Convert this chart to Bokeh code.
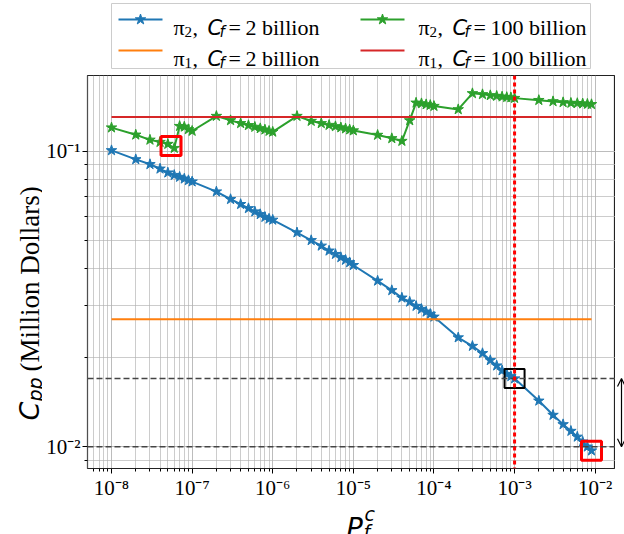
from math import pi, log10
from bokeh.plotting import figure
from bokeh.layouts import gridplot
from bokeh.models import (FixedTicker, CustomJSTickFormatter, Span, Arrow,
                          OpenHead, Range1d)
from bokeh.core.properties import value
from bokeh.embed import file_html
from bokeh.resources import INLINE

# ---------------- data ----------------
pf = [1e-8, 2e-8, 3e-8, 4e-8, 5e-8, 6e-8, 7e-8, 8e-8, 9e-8,
      1e-7, 2e-7, 3e-7, 4e-7, 5e-7, 6e-7, 7e-7, 8e-7, 9e-7,
      1e-6, 2e-6, 3e-6, 4e-6, 5e-6, 6e-6, 7e-6, 8e-6, 9e-6,
      1e-5, 2e-5, 3e-5, 4e-5, 5e-5, 6e-5, 7e-5, 8e-5, 9e-5,
      1e-4, 2e-4, 3e-4, 4e-4, 5e-4, 6e-4, 7e-4, 8e-4, 9e-4,
      1e-3, 2e-3, 3e-3, 4e-3, 5e-3, 6e-3, 7e-3, 8e-3, 9e-3]

pi2_cf2 = [0.1005, 0.0937, 0.0902, 0.0871, 0.0845, 0.0829, 0.0817, 0.0806, 0.0796,
           0.0788, 0.0729, 0.0687, 0.0661, 0.0640, 0.0624, 0.0611, 0.0598, 0.0590,
           0.0585, 0.0530, 0.0499, 0.0478, 0.0460, 0.0448, 0.0437, 0.0428, 0.0420,
           0.0411, 0.0364, 0.0338, 0.0319, 0.0309, 0.0299, 0.0292, 0.0286, 0.0281,
           0.0275, 0.0234, 0.0219, 0.0207, 0.0196, 0.0188, 0.0181, 0.0176, 0.0173,
           0.0170, 0.0143, 0.0128, 0.0119, 0.0113, 0.0108, 0.0104, 0.0100, 0.0097]

pi2_cf100 = [0.1200, 0.1135, 0.1091, 0.1072, 0.1056, 0.1023, 0.1214, 0.1208, 0.1184,
             0.1169, 0.1313, 0.1270, 0.1241, 0.1222, 0.1206, 0.1193, 0.1181, 0.1169,
             0.1161, 0.1313, 0.1263, 0.1241, 0.1224, 0.1212, 0.1201, 0.1191, 0.1182,
             0.1173, 0.1133, 0.1104, 0.1081, 0.1269, 0.1456, 0.1449, 0.1438, 0.1430,
             0.1419, 0.1383, 0.1567, 0.1555, 0.1543, 0.1535, 0.1527, 0.1521, 0.1518,
             0.1510, 0.1486, 0.1472, 0.1461, 0.1454, 0.1451, 0.1447, 0.1443, 0.1439]

pi1_cf2 = 0.0270
pi1_cf100 = 0.1303
ref_upper = 0.0170
ref_lower = 0.0100
pf_marked = 1e-3

x_major = [1e-8, 1e-7, 1e-6, 1e-5, 1e-4, 1e-3, 1e-2]
y_major = [1e-2, 1e-1]

BLUE, ORANGE, GREEN, RED = "#1f77b4", "#ff7f0e", "#2ca02c", "#d62728"

# ---------------- ranges (matplotlib-like 5% log margins) ----------------
def log_range(vals):
    lo, hi = log10(min(vals)), log10(max(vals))
    m = 0.05 * (hi - lo)
    return 10 ** (lo - m), 10 ** (hi + m)

xlo, xhi = log_range(pf)
ylo, yhi = log_range(pi2_cf2 + pi2_cf100)

# ---------------- page layout (pixels) ----------------
W, H = 624, 534
LEG_H = 72                      # legend strip height
FL, FR, FT, FB = 87, 615, 75, 468   # frame of the main plot
YW = 42                         # width of the y-label strip
XB = 32                         # bottom border of main plot (tick labels)
XL_H = H - FB - XB              # x-label strip height

def blank(fig):
    fig.title.visible = False
    fig.grid.visible = False
    fig.outline_line_color = None
    fig.toolbar_location = None
    return fig

# ---------------- main figure ----------------
y_rng = Range1d(ylo, yhi)
p = figure(frame_width=FR - FL, frame_height=FB - FT,
           x_axis_type="log", y_axis_type="log",
           x_range=Range1d(xlo, xhi), y_range=y_rng,
           min_border_left=FL - YW, min_border_right=0,
           min_border_top=FT - LEG_H, min_border_bottom=XB,
           output_backend="svg", toolbar_location=None)
p.title.visible = False

x_minor = [m * 10.0 ** k for k in range(-9, -1) for m in range(2, 10)]
y_minor = [m * 10.0 ** k for k in range(-3, 0) for m in range(2, 10)]
xt = FixedTicker(ticks=x_major, minor_ticks=x_minor)
yt = FixedTicker(ticks=y_major, minor_ticks=y_minor)
p.xaxis.ticker = xt
p.yaxis.ticker = yt
p.xgrid.ticker = xt
p.ygrid.ticker = yt

fmt = CustomJSTickFormatter(code="""
const sup = {"-":"\u207b","0":"\u2070","1":"\u00b9","2":"\u00b2","3":"\u00b3",
             "4":"\u2074","5":"\u2075","6":"\u2076","7":"\u2077","8":"\u2078","9":"\u2079"};
const e = Math.round(Math.log10(tick));
return "10" + String(e).split("").map(c => sup[c]).join("");
""")
p.xaxis.formatter = fmt
p.yaxis.formatter = fmt

for ax in (p.xaxis[0], p.yaxis[0]):
    ax.axis_line_color = None
    ax.major_label_text_font = "Liberation Serif"
    ax.major_label_text_font_size = "21px"
    ax.major_label_text_color = "black"
    ax.major_tick_out = 5
    ax.major_tick_in = 0
    ax.minor_tick_out = 3
    ax.minor_tick_in = 0
    ax.major_tick_line_color = "black"
    ax.minor_tick_line_color = "black"
    ax.major_label_standoff = 2

for g in (p.xgrid[0], p.ygrid[0]):
    g.grid_line_color = "#b0b0b0"
    g.grid_line_alpha = 0.85
    g.minor_grid_line_color = "#b0b0b0"
    g.minor_grid_line_alpha = 0.65

p.outline_line_color = "#222222"
p.outline_line_width = 1.2
p.outline_line_alpha = 1.0

# series
p.line(pf, pi2_cf2, line_color=BLUE, line_width=2)
p.scatter(pf, pi2_cf2, marker="star", size=11, fill_color=BLUE, line_color=BLUE)
p.line([pf[0], pf[-1]], [pi1_cf2, pi1_cf2], line_color=ORANGE, line_width=2)
p.line(pf, pi2_cf100, line_color=GREEN, line_width=2)
p.scatter(pf, pi2_cf100, marker="star", size=11, fill_color=GREEN, line_color=GREEN)
p.line([pf[0], pf[-1]], [pi1_cf100, pi1_cf100], line_color=RED, line_width=2)

# reference lines
for lv in (ref_upper, ref_lower):
    p.add_layout(Span(location=lv, dimension="width", line_color="#444444",
                      line_dash="6 3", line_width=1.5))
p.add_layout(Span(location=pf_marked, dimension="height", line_color="red",
                  line_dash="4 3", line_width=3))

# highlight boxes
i_m = pf.index(pf_marked)
p.rect(x=[pf_marked], y=[pi2_cf2[i_m]], width=20, height=19,
       width_units="screen", height_units="screen",
       fill_alpha=0, line_color="black", line_width=2)
p.rect(x=[pf[-1]], y=[pi2_cf2[-1]], width=20, height=19,
       width_units="screen", height_units="screen",
       fill_alpha=0, line_color="red", line_width=3)
p.rect(x=[(pf[4] * pf[5]) ** 0.5], y=[(pi2_cf100[4] * pi2_cf100[5]) ** 0.5],
       width=20, height=19, width_units="screen", height_units="screen",
       fill_alpha=0, line_color="red", line_width=3)

# ---------------- right strip: double arrow ----------------
A = blank(figure(frame_width=W - FR, frame_height=FB - FT, y_axis_type="log",
                 x_range=Range1d(FR, W), y_range=y_rng,
                 x_axis_location=None, y_axis_location=None,
                 min_border_left=0, min_border_right=0,
                 min_border_top=FT - LEG_H, min_border_bottom=XB,
                 output_backend="svg"))
A.add_layout(Arrow(x_start=621, y_start=ref_lower, x_end=621, y_end=ref_upper,
                   line_color="black", line_width=1.2,
                   start=OpenHead(size=8, line_width=1.2, line_color="black"),
                   end=OpenHead(size=8, line_width=1.2, line_color="black")))

# ---------------- left strip: y label ----------------
Y = blank(figure(frame_width=YW, frame_height=FB - FT,
                 x_range=Range1d(0, YW), y_range=Range1d(FB, FT),
                 x_axis_location=None, y_axis_location=None,
                 min_border_left=0, min_border_right=0,
                 min_border_top=FT - LEG_H, min_border_bottom=XB,
                 output_backend="svg"))

def ytxt(x, y, s, font, size, style="normal"):
    Y.text(x=[x], y=[y], text=[s], text_font=value(font), text_font_size=value(size),
           text_font_style=style, text_align="left", text_baseline="alphabetic",
           angle=pi / 2, text_color="black")

ytxt(29, 420, "C", "DejaVu Sans", "27px", "italic")
ytxt(34, 401, "pp", "DejaVu Sans", "19px", "italic")
ytxt(29, 371, "(Million Dollars)", "Liberation Serif", "27px")

# ---------------- bottom strip: x label ----------------
X = blank(figure(frame_width=FR - FL, frame_height=XL_H,
                 x_range=Range1d(FL, FR), y_range=Range1d(H, FB + XB),
                 x_axis_location=None, y_axis_location=None,
                 min_border_left=FL - YW, min_border_right=0,
                 min_border_top=0, min_border_bottom=0,
                 output_backend="svg"))

def xtxt(x, y, s, font, size, style="normal"):
    X.text(x=[x], y=[y], text=[s], text_font=value(font), text_font_size=value(size),
           text_font_style=style, text_align="left", text_baseline="alphabetic",
           text_color="black")

xtxt(346, 525, "P", "DejaVu Sans", "27px", "italic")
xtxt(364, 511, "c", "DejaVu Sans", "19px", "italic")
xtxt(363, 529, "f", "DejaVu Sans", "19px", "italic")

# ---------------- legend strip (page-pixel coordinates) ----------------
L = blank(figure(frame_width=FR - FL, frame_height=LEG_H,
                 x_range=Range1d(FL, FR), y_range=Range1d(LEG_H, 0),
                 x_axis_location=None, y_axis_location=None,
                 min_border_left=FL - YW, min_border_right=0,
                 min_border_top=0, min_border_bottom=0,
                 output_backend="svg"))
L.quad(left=[111], right=[590], top=[3], bottom=[68], fill_color="white",
       line_color="#cccccc", line_width=1)

rows = [(19, 27), (50, 58)]
entries = [  # (x of sample line, x of text, row, color, marker, pi index, cost)
    (118, 173, 0, BLUE, True, "2", "2 billion"),
    (118, 173, 1, ORANGE, False, "1", "2 billion"),
    (360, 418, 0, GREEN, True, "2", "100 billion"),
    (360, 418, 1, RED, False, "1", "100 billion"),
]

def ltxt(x, y, s, font, size, style="normal"):
    L.text(x=[x], y=[y], text=[s], text_font=value(font), text_font_size=value(size),
           text_font_style=style, text_align="left", text_baseline="alphabetic",
           text_color="black")

for xl, xt0, r, col, mk, idx, cf in entries:
    yc, yb = rows[r]
    L.line([xl, xl + 44], [yc, yc], line_color=col, line_width=2)
    if mk:
        L.scatter([xl + 22], [yc], marker="star", size=11, fill_color=col, line_color=col)
    ltxt(xt0, yb, "\u03c0", "Liberation Serif", "22px")
    ltxt(xt0 + 11, yb + 4, idx, "Liberation Serif", "15px")
    ltxt(xt0 + 19, yb, ",", "Liberation Serif", "22px")
    ltxt(xt0 + 34, yb, "C", "DejaVu Sans", "21px", "italic")
    ltxt(xt0 + 46, yb + 4, "f", "DejaVu Sans", "15px", "italic")
    ltxt(xt0 + 55, yb, "=", "Liberation Serif", "22px")
    ltxt(xt0 + 72, yb, cf, "Liberation Serif", "22px")

grid = gridplot([[None, L, None], [Y, p, A], [None, X, None]],
                toolbar_location=None)
open("out.html", "w").write(file_html(grid, INLINE))
